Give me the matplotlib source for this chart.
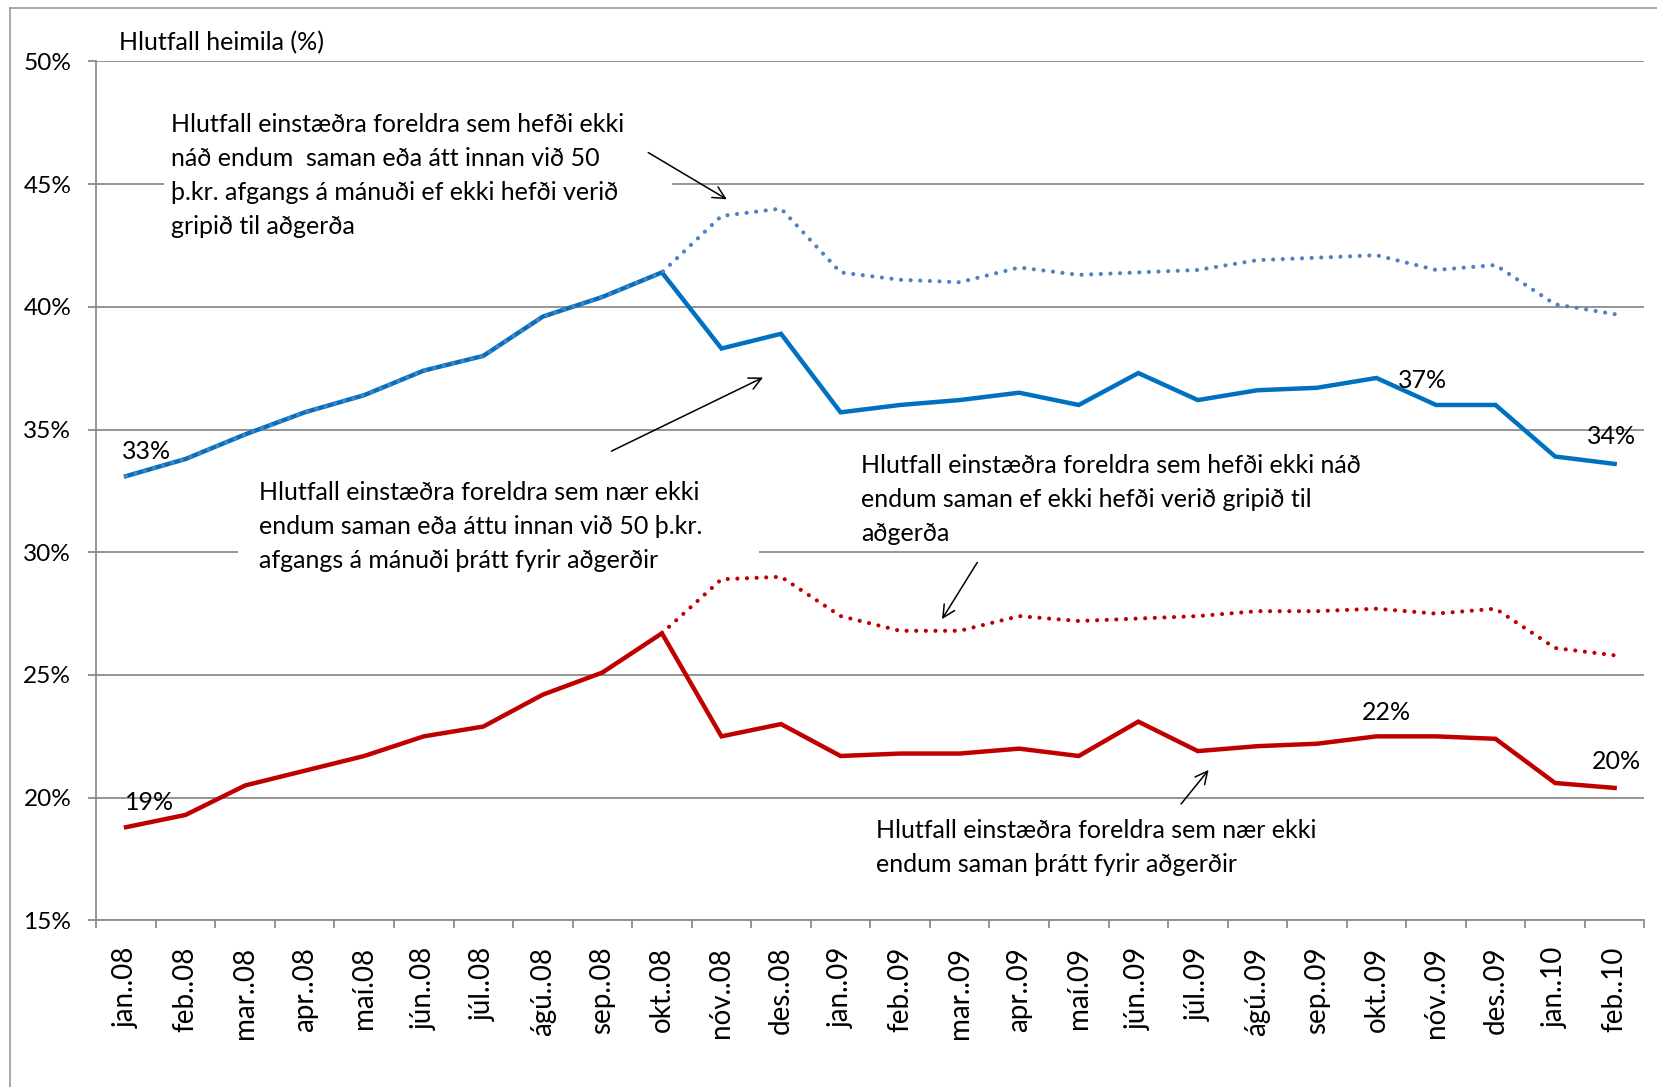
import matplotlib.pyplot as plt
from matplotlib.lines import Line2D
from matplotlib.patches import Rectangle

plt.rcParams['font.family'] = ['Lato', 'DejaVu Sans']

# Mánuðir (x-ás)
months = ["jan..08", "feb..08", "mar..08", "apr..08", "maí.08", "jún..08", "júl..08",
          "ágú..08", "sep..08", "okt..08", "nóv..08", "des..08",
          "jan..09", "feb..09", "mar..09", "apr..09", "maí.09", "jún..09", "júl..09",
          "ágú..09", "sep..09", "okt..09", "nóv..09", "des..09", "jan..10", "feb..10"]

# Nær ekki endum saman eða innan við 50 þ.kr. afgangs, þrátt fyrir aðgerðir
blue_actual = [33.1, 33.8, 34.8, 35.7, 36.4, 37.4, 38.0, 39.6, 40.4, 41.4, 38.3, 38.9,
               35.7, 36.0, 36.2, 36.5, 36.0, 37.3, 36.2, 36.6, 36.7, 37.1, 36.0, 36.0, 33.9, 33.6]
# ... ef ekki hefði verið gripið til aðgerða
blue_noaction = [33.1, 33.8, 34.8, 35.7, 36.4, 37.4, 38.0, 39.6, 40.4, 41.4, 43.7, 44.0,
                 41.4, 41.1, 41.0, 41.6, 41.3, 41.4, 41.5, 41.9, 42.0, 42.1, 41.5, 41.7, 40.1, 39.7]
# Nær ekki endum saman, þrátt fyrir aðgerðir
red_actual = [18.8, 19.3, 20.5, 21.1, 21.7, 22.5, 22.9, 24.2, 25.1, 26.7, 22.5, 23.0,
              21.7, 21.8, 21.8, 22.0, 21.7, 23.1, 21.9, 22.1, 22.2, 22.5, 22.5, 22.4, 20.6, 20.4]
# ... ef ekki hefði verið gripið til aðgerða
red_noaction = [18.8, 19.3, 20.5, 21.1, 21.7, 22.5, 22.9, 24.2, 25.1, 26.7, 28.9, 29.0,
                27.4, 26.8, 26.8, 27.4, 27.2, 27.3, 27.4, 27.6, 27.6, 27.7, 27.5, 27.7, 26.1, 25.8]

yticks = [15, 20, 25, 30, 35, 40, 45, 50]

BLUE = "#0070C0"
BLUE_DOT = "#4F81BD"
RED = "#C00000"
GRID = "#8c8c8c"
FS = 18

fig = plt.figure(figsize=(16.57, 10.87), dpi=100)
ax = fig.add_axes([0.0581, 0.1532, 0.9343, 0.7904])

x = list(range(len(months)))
dotted = (0, (0.01, 2.3))

ax.plot(x, blue_actual, color=BLUE, lw=3.2, solid_joinstyle="miter", zorder=3)
ax.plot(x, blue_noaction, color=BLUE_DOT, lw=3.0, linestyle=dotted, dash_capstyle="round", zorder=4)
ax.plot(x, red_actual, color=RED, lw=3.2, solid_joinstyle="miter", zorder=3)
ax.plot(x[9:], red_noaction[9:], color=RED, lw=3.0, linestyle=dotted, dash_capstyle="round", zorder=4)

ax.set_xlim(-0.5, len(months) - 0.5)
ax.set_ylim(15, 50)
ax.set_yticks(yticks)
ax.set_yticklabels([f"{v}%" for v in yticks])
ax.yaxis.grid(True, color=GRID, lw=1.3)
ax.set_axisbelow(True)

ax.set_xticks([i - 0.5 for i in range(len(months) + 1)])
ax.set_xticklabels([])
ax.set_xticks(x, minor=True)
ax.set_xticklabels(months, minor=True, rotation=90, fontsize=20)
ax.tick_params(axis="x", which="minor", length=0, pad=19)
ax.tick_params(axis="x", which="major", length=6, width=1.3, color=GRID)
ax.tick_params(axis="y", length=6, width=1.3, color=GRID, labelsize=17.6, pad=12)

for s in ["top", "right"]:
    ax.spines[s].set_visible(False)
for s in ["left", "bottom"]:
    ax.spines[s].set_color(GRID)
    ax.spines[s].set_linewidth(1.3)

ax.text(-0.11, 50.77, "Hlutfall heimila (%)", fontsize=FS, va="center", ha="left", clip_on=False)

# hvítir textareitir sem hylja hnitalínur
ax.add_patch(Rectangle((0.64, 42.7), 8.53, 5.5, facecolor="white", edgecolor="none", zorder=1))
ax.add_patch(Rectangle((1.88, 29.2), 8.75, 3.7, facecolor="white", edgecolor="none", zorder=1))

notes = [
    (0.76, 45.33, "Hlutfall einstæðra foreldra sem hefði ekki\nnáð endum  saman eða átt innan við 50\n"
                  "þ.kr. afgangs á mánuði ef ekki hefði verið\ngripið til aðgerða"),
    (2.24, 31.06, "Hlutfall einstæðra foreldra sem nær ekki\nendum saman eða áttu innan við 50 þ.kr.\n"
                  "afgangs á mánuði þrátt fyrir aðgerðir"),
    (12.35, 32.16, "Hlutfall einstæðra foreldra sem hefði ekki náð\nendum saman ef ekki hefði verið gripið til\naðgerða"),
    (12.60, 17.97, "Hlutfall einstæðra foreldra sem nær ekki\nendum saman þrátt fyrir aðgerðir"),
]
for tx, ty, t in notes:
    ax.text(tx, ty, t, fontsize=FS, ha="left", va="center", linespacing=1.58, zorder=5)

arrows = [((8.73, 46.34), (10.13, 44.32)),
          ((8.11, 34.07), (10.74, 37.17)),
          ((14.32, 29.68), (13.68, 27.18)),
          ((17.69, 19.66), (18.21, 21.22))]
for tail, head in arrows:
    ax.annotate("", xy=head, xytext=tail,
                arrowprops=dict(arrowstyle="->", color="black", lw=1.1, mutation_scale=22), zorder=5)

# gagnamerki
labels = [(0, blue_actual, 15, 18), (21, blue_actual, 33, -1.5), (25, blue_actual, -2, 20),
          (0, red_actual, 17, 17.5), (21, red_actual, 7, 17), (25, red_actual, 1, 19)]
for i, series, dx, dy in labels:
    ax.annotate(f"{series[i]:.0f}%", xy=(i, series[i]), xytext=(dx, dy), textcoords="offset points",
                ha="center", va="center", fontsize=FS, zorder=6)

# rammi utan um myndina
fig.add_artist(Line2D([10 / 1657, 1], [1 - 8 / 1087, 1 - 8 / 1087], color="#999999", lw=1.2))
fig.add_artist(Line2D([10 / 1657, 10 / 1657], [0, 1 - 8 / 1087], color="#999999", lw=1.2))

fig.savefig("out.png", dpi=100)
